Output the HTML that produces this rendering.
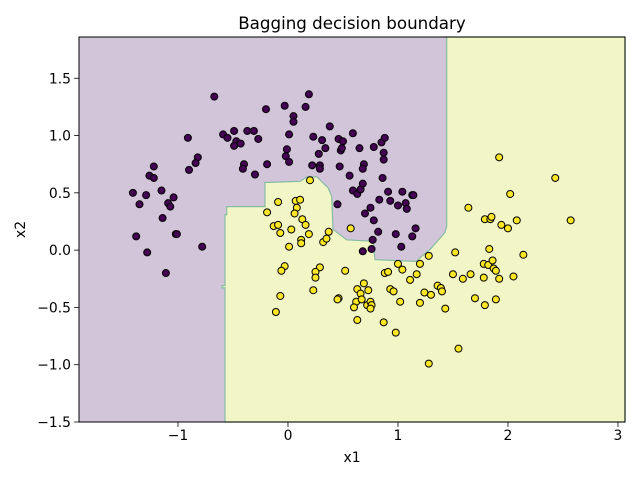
<!DOCTYPE html>
<html><head><meta charset="utf-8"><style>
body{margin:0;background:#fff;width:640px;height:480px;overflow:hidden}
svg{display:block;font-family:"DejaVu Sans","Liberation Sans",sans-serif}
</style></head><body>
<svg id="chart" width="640" height="480" viewBox="0 0 640 480" xmlns="http://www.w3.org/2000/svg"></svg>
<script>
const xTicks=[-1,0,1,2,3];
const yTicks=[-1.5,-1.0,-0.5,0.0,0.5,1.0,1.5];
const yTickLabels=["−1.5","−1.0","−0.5","0.0","0.5","1.0","1.5"];
const xTickLabels=["−1","0","1","2","3"];
const class0X=[-0.67,-0.20,-0.03,0.16,0.19,0.05,0.05,-0.91,-0.59,-0.55,-0.49,-0.37,-0.31,-0.27,-0.47,-0.43,-0.49,0.01,0.23,-0.01,-0.02,0.01,-0.82,-0.84,-0.90,-0.40,-0.41,-0.19,-0.30,0.22,-1.22,-1.26,-1.22,-1.41,-1.29,-1.15,-1.04,-1.35,-1.09,-1.07,-1.14,-1.38,-1.02,-1.01,-1.28,-0.78,-1.11,0.38,0.59,0.31,0.46,0.50,0.34,0.48,0.49,0.65,0.78,0.85,0.88,0.87,0.87,0.28,0.29,0.29,0.47,0.69,0.68,0.56,0.86,0.68,0.59,0.63,0.66,0.91,1.04,1.13,1.14,0.83,0.93,1.07,1.00,1.08,0.45,0.75,0.70,0.78,0.82,0.98,1.16,1.13,0.77,1.03,0.68,0.76];
const class0Y=[1.34,1.23,1.26,1.25,1.36,1.17,1.12,0.98,1.01,0.98,1.04,1.04,1.04,0.97,0.95,0.93,0.91,1.01,0.99,0.88,0.82,0.77,0.81,0.76,0.70,0.75,0.71,0.75,0.66,0.74,0.73,0.65,0.63,0.50,0.48,0.52,0.46,0.40,0.41,0.38,0.28,0.12,0.14,0.14,-0.02,0.03,-0.20,1.08,1.02,0.96,0.97,0.95,0.89,0.87,0.89,0.89,0.90,0.94,0.98,0.85,0.79,0.84,0.74,0.71,0.73,0.75,0.71,0.65,0.63,0.58,0.52,0.49,0.53,0.51,0.51,0.48,0.48,0.44,0.43,0.41,0.39,0.36,0.40,0.37,0.32,0.26,0.16,0.14,0.19,0.12,0.09,0.03,-0.01,0.01];
const class1X=[0.20,0.57,-0.09,-0.19,0.07,0.11,0.08,0.06,-0.13,-0.09,-0.07,0.03,0.13,0.16,0.19,0.12,0.12,0.37,0.32,0.35,0.01,-0.03,-0.06,0.29,0.25,0.25,0.52,0.23,-0.07,-0.11,0.46,0.45,0.63,0.69,0.73,0.66,0.62,0.67,0.60,0.72,0.75,0.76,0.75,0.63,0.87,0.98,1.28,0.88,0.91,1.00,1.04,1.11,1.17,1.20,1.28,0.93,0.96,1.02,1.20,1.24,1.30,1.36,1.92,2.43,2.02,1.64,1.79,1.84,1.85,1.94,2.00,2.08,2.57,1.83,1.52,2.14,1.78,1.82,1.86,1.87,1.89,1.50,1.59,1.66,1.78,1.92,2.05,1.39,1.40,1.43,1.70,1.79,1.89,1.55];
const class1Y=[0.61,0.19,0.42,0.33,0.43,0.44,0.37,0.32,0.21,0.22,0.15,0.18,0.27,0.22,0.14,0.09,0.06,0.16,0.07,0.10,0.03,-0.14,-0.18,-0.15,-0.19,-0.24,-0.18,-0.35,-0.40,-0.54,-0.42,-0.43,-0.34,-0.29,-0.35,-0.38,-0.45,-0.43,-0.50,-0.48,-0.45,-0.48,-0.51,-0.61,-0.63,-0.72,-0.99,-0.20,-0.19,-0.12,-0.17,-0.26,-0.21,-0.12,-0.05,-0.34,-0.36,-0.45,-0.46,-0.37,-0.39,-0.31,0.81,0.63,0.49,0.37,0.27,0.27,0.29,0.22,0.19,0.26,0.26,0.01,-0.02,-0.04,-0.12,-0.13,-0.09,-0.16,-0.18,-0.21,-0.25,-0.21,-0.24,-0.25,-0.23,-0.33,-0.36,-0.51,-0.42,-0.48,-0.43,-0.86];
const boundaryX=[1.427,3.064,3.064,-0.573,-0.573,-0.600,-0.600,-0.573,-0.573,-0.557,-0.557,-0.209,-0.209,0.109,0.173,0.264,0.336,0.364,0.397,0.409,0.534,0.773,0.791,1.17,1.215,1.29,1.427,1.443,1.443];
const boundaryY=[1.86,1.86,-1.5,-1.5,-0.33,-0.33,-0.31,-0.31,0.31,0.31,0.38,0.38,0.59,0.60,0.64,0.64,0.57,0.545,0.47,0.18,0.09,0.077,-0.083,-0.098,-0.054,0.004,0.153,0.207,1.86];

const X0=-1.9,X1=3.064,Y0=-1.5,Y1=1.86;
const L=79,R=625,T=37,B=422;
const sx=v=>L+(v-X0)/(X1-X0)*(R-L);
const sy=v=>B-(v-Y0)/(Y1-Y0)*(B-T);
const svg=document.getElementById('chart');
const NS='http://www.w3.org/2000/svg';
function mk(tag,attrs,parent){const e=document.createElementNS(NS,tag);for(const k in attrs)e.setAttribute(k,attrs[k]);(parent||svg).appendChild(e);return e;}

const bg=mk('rect',{x:L,y:T,width:R-L,height:B-T,fill:'#d2c5da'});


const pts=boundaryX.map((x,i)=>sx(x).toFixed(1)+','+sy(boundaryY[i]).toFixed(1)).join(' ');
const poly=mk('polygon',{points:pts,fill:'#f2f6c6',stroke:'#86bca3','stroke-width':1.2});



const g0=mk('g',{});


class0X.forEach((x,i)=>{const c=mk('circle',{cx:sx(x),cy:sy(class0Y[i]),r:3.5,fill:'#440154',stroke:'#000','stroke-width':1},g0);

});
const g1=mk('g',{});


class1X.forEach((x,i)=>{const c=mk('circle',{cx:sx(x),cy:sy(class1Y[i]),r:3.5,fill:'#fde725',stroke:'#000','stroke-width':1},g1);

});

const frame=mk('rect',{x:L,y:T,width:R-L,height:B-T,fill:'none',stroke:'#000','stroke-width':1});



xTicks.forEach((v,i)=>{const x=sx(v);
const t=mk('line',{x1:x,x2:x,y1:B,y2:B+4.9,stroke:'#000','stroke-width':0.8});


const l=mk('text',{x:x,y:B+18,'font-size':'13.9','text-anchor':'middle',fill:'#000'});l.textContent=xTickLabels[i];

});
yTicks.forEach((v,i)=>{const y=sy(v);
const t=mk('line',{x1:L-4.9,x2:L,y1:y,y2:y,stroke:'#000','stroke-width':0.8});


const l=mk('text',{x:L-8,y:y+5,'font-size':'13.9','text-anchor':'end',fill:'#000'});l.textContent=yTickLabels[i];

});

const title=mk('text',{x:(L+R)/2,y:29,'font-size':'16.7','text-anchor':'middle',fill:'#000'});title.textContent='Bagging decision boundary';


const xl=mk('text',{x:(L+R)/2,y:462,'font-size':'13.9','text-anchor':'middle',fill:'#000'});xl.textContent='x1';


const yl=mk('text',{x:25,y:(T+B)/2,'font-size':'13.9','text-anchor':'middle',fill:'#000',transform:'rotate(-90 25 '+((T+B)/2)+')'});yl.textContent='x2';


</script>
</body></html>
